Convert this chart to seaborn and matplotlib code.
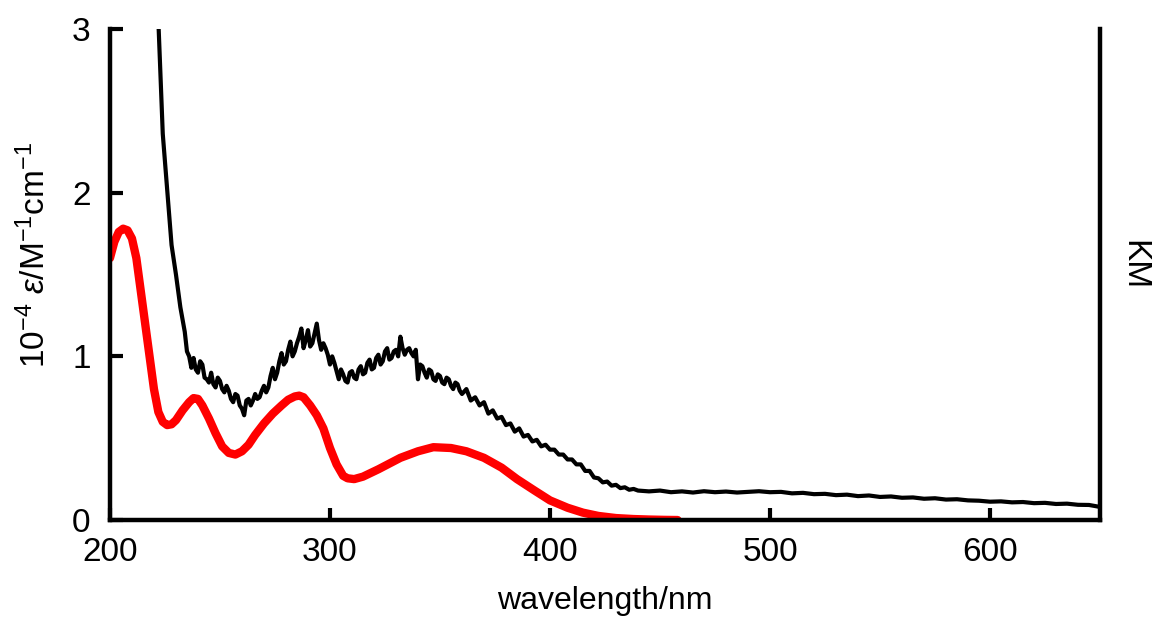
import numpy as np
import pandas as pd
import matplotlib
matplotlib.use("Agg")
import matplotlib.pyplot as plt
import seaborn as sns

# --- red spectrum (smooth, epsilon) ---
red_nm = [200, 202, 204, 206, 208, 210, 212, 214, 217, 220, 222, 224, 226, 228,
          230, 233, 236, 238, 240, 242, 245, 248, 251, 254, 257, 260, 263, 266,
          270, 274, 278, 281, 284, 286, 288, 291, 294, 297, 300, 303, 306, 308,
          311, 315, 322, 332, 340, 347, 355, 362, 370, 378, 385, 393, 400, 408,
          415, 422, 430, 438, 445, 452, 458]
red_eps = [1.60, 1.70, 1.76, 1.78, 1.77, 1.72, 1.60, 1.40, 1.10, 0.80, 0.66,
           0.60, 0.58, 0.585, 0.61, 0.67, 0.72, 0.745, 0.74, 0.70, 0.62, 0.53,
           0.45, 0.41, 0.40, 0.42, 0.46, 0.52, 0.59, 0.65, 0.70, 0.735, 0.755,
           0.76, 0.75, 0.70, 0.64, 0.56, 0.44, 0.34, 0.27, 0.255, 0.25, 0.265,
           0.31, 0.38, 0.42, 0.445, 0.44, 0.42, 0.38, 0.32, 0.25, 0.18, 0.12,
           0.075, 0.045, 0.025, 0.012, 0.006, 0.003, 0.001, 0.0]

# --- black spectrum (noisy, KM) ---
km_nm = [222, 224, 226, 228, 230, 232, 234, 235, 236, 237, 238, 239, 240, 241,
         242, 243, 244, 245, 246, 247, 248, 249, 250, 251, 252, 253, 254, 255,
         256, 257, 258, 259, 260, 261, 262, 263, 264, 265, 266, 267, 268, 269,
         270, 271, 272, 273, 274, 275, 276, 277, 278, 279, 280, 281, 282, 283,
         284, 285, 286, 287, 288, 289, 290, 291, 292, 293, 294, 295, 296, 297,
         298, 299, 300, 301, 302, 303, 304, 305, 306, 307, 308, 309, 310, 311,
         312, 313, 314, 315, 316, 317, 318, 319, 320, 321, 322, 323, 324, 325,
         326, 327, 328, 329, 330, 331, 332, 333, 334, 335, 336, 337, 338, 339,
         340, 341, 342, 343, 344, 345, 346, 347, 348, 349, 350, 351, 352, 353,
         354, 355, 356, 357, 358, 359, 360, 362, 364, 366, 368, 370, 372, 374,
         376, 378, 380, 382, 384, 386, 388, 390, 392, 394, 396, 398, 400, 402,
         404, 406, 408, 410, 412, 414, 416, 418, 420, 422, 424, 426, 428, 430,
         432, 434, 436, 438, 440,
         445, 450, 455, 460, 465, 470, 475, 480, 485, 490, 495, 500, 505, 510,
         515, 520, 525, 530, 535, 540, 545, 550, 555, 560, 565, 570, 575, 580,
         585, 590, 595, 600, 605, 610, 615, 620, 625, 630, 635, 640, 645, 650]
km_val = [3.05, 2.36, 2.02, 1.68, 1.50, 1.30, 1.15, 1.03, 1.00, 0.93, 0.99, 0.92,
          0.90, 0.97, 0.95, 0.87, 0.86, 0.84, 0.90, 0.83, 0.81, 0.87, 0.85, 0.80,
          0.78, 0.82, 0.79, 0.74, 0.72, 0.77, 0.76, 0.70, 0.68, 0.64, 0.73, 0.74,
          0.70, 0.73, 0.77, 0.74, 0.75, 0.79, 0.82, 0.78, 0.81, 0.88, 0.93, 0.86,
          0.90, 0.97, 1.02, 0.95, 0.97, 1.04, 1.09, 1.00, 1.03, 1.08, 1.12, 1.17,
          1.05, 1.10, 1.16, 1.06, 1.08, 1.14, 1.20, 1.10, 1.04, 1.08, 1.05, 1.01,
          0.95, 1.00, 0.96, 0.91, 0.86, 0.92, 0.89, 0.85, 0.84, 0.90, 0.91, 0.87,
          0.86, 0.92, 0.94, 0.89, 0.90, 0.96, 0.98, 0.92, 0.93, 0.99, 1.01, 0.95,
          0.97, 1.03, 1.05, 0.98, 0.99, 1.03, 1.04, 1.00, 1.12, 1.05, 1.01, 1.04,
          1.05, 1.02, 1.00, 1.04, 0.86, 0.95, 0.94, 0.90, 0.87, 0.92, 0.91, 0.86,
          0.85, 0.89, 0.88, 0.84, 0.83, 0.87, 0.86, 0.82, 0.80, 0.84, 0.83, 0.79,
          0.77, 0.80, 0.73, 0.75, 0.70, 0.72, 0.65, 0.67, 0.62, 0.63, 0.58, 0.59,
          0.54, 0.56, 0.51, 0.52, 0.48, 0.49, 0.45, 0.46, 0.43, 0.43, 0.40, 0.40,
          0.37, 0.37, 0.34, 0.34, 0.30, 0.30, 0.26, 0.255, 0.23, 0.235, 0.21,
          0.215, 0.195, 0.20, 0.185, 0.19, 0.18,
          0.175, 0.18, 0.17, 0.175, 0.168, 0.176, 0.17, 0.174, 0.168, 0.172,
          0.176, 0.17, 0.172, 0.163, 0.166, 0.158, 0.16, 0.152, 0.155, 0.146,
          0.15, 0.141, 0.144, 0.136, 0.138, 0.13, 0.133, 0.125, 0.127, 0.12,
          0.118, 0.112, 0.114, 0.108, 0.11, 0.103, 0.105, 0.098, 0.10, 0.093,
          0.092, 0.08]

x_ticks = [200, 300, 400, 500, 600]
y_ticks = [0, 1, 2, 3]

sns.set_style("ticks")
plt.rcParams['font.family'] = ['Liberation Sans', 'DejaVu Sans']
plt.rcParams['mathtext.fontset'] = 'custom'
plt.rcParams['mathtext.rm'] = 'Liberation Sans'
plt.rcParams['mathtext.it'] = 'Liberation Sans:italic'
plt.rcParams['text.color'] = 'black'
plt.rcParams['axes.labelcolor'] = 'black'

df_red = pd.DataFrame({"nm": red_nm, "val": red_eps})
df_km = pd.DataFrame({"nm": km_nm, "val": km_val})

fig = plt.figure(figsize=(11.55, 6.21), dpi=100)
ax = fig.add_axes([0.0952, 0.1626, 0.8572, 0.7907])

sns.lineplot(data=df_km, x="nm", y="val", color="black", linewidth=3.0,
             sort=False, ax=ax)
sns.lineplot(data=df_red, x="nm", y="val", color="#ff0000", linewidth=6.0, ax=ax)

ax.set_xlim(200, 650)
ax.set_ylim(0, 3)
ax.set_xticks(x_ticks)
ax.set_yticks(y_ticks)
ax.tick_params(direction="in", length=9, width=3, labelsize=24, colors="black")
ax.tick_params(axis="x", pad=12)
ax.tick_params(axis="y", pad=14)

for side in ["left", "bottom", "right"]:
    ax.spines[side].set_linewidth(3.2)
    ax.spines[side].set_color("black")
ax.spines["top"].set_visible(False)

ax.set_xlabel("wavelength/nm", fontsize=23)
ax.set_ylabel(r"10$^{-4}$ $\mathit{\varepsilon}$/M$^{-1}$cm$^{-1}$", fontsize=24)
ax.xaxis.set_label_coords(0.5, -0.135)
ax.yaxis.set_label_coords(-0.058, 0.54)
ax.text(1.034, 0.52, "KM", rotation=-90, transform=ax.transAxes,
        ha="center", va="center", fontsize=24)

fig.savefig("out.png", dpi=100)
